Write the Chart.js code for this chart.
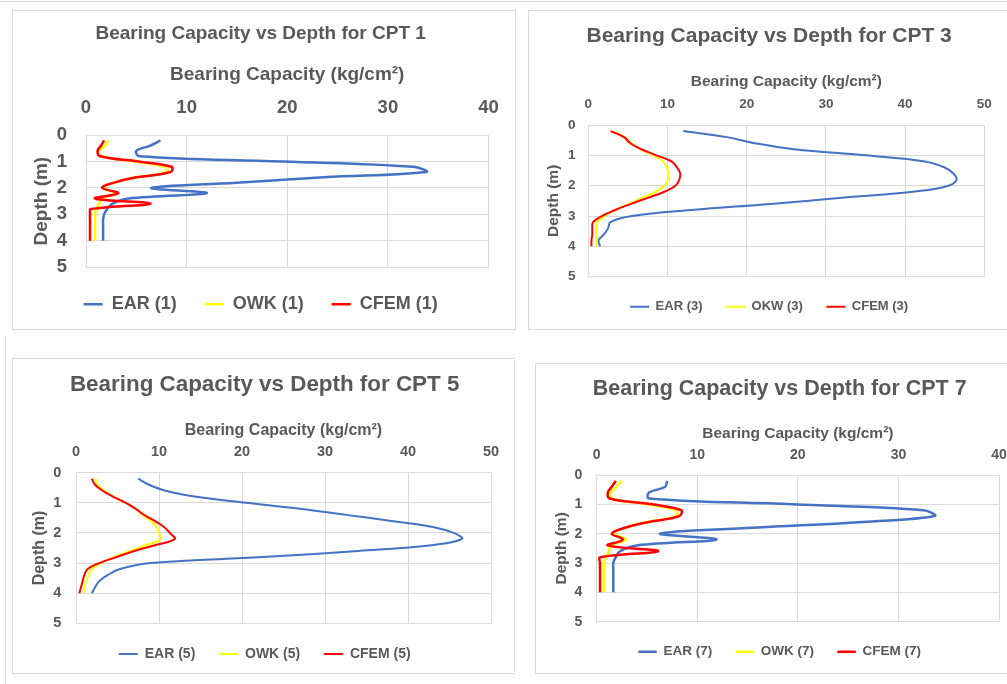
<!DOCTYPE html>
<html>
<head>
<meta charset="utf-8">
<script src="https://cdn.jsdelivr.net/npm/chart.js@4.4.1/dist/chart.umd.min.js"></script>
<style>
  body { margin: 0; background: #fff; width: 1007px; height: 684px; overflow: hidden; position: relative; }
  .panel { position: absolute; border: 1px solid #d9d9d9; background: #fff; }
  .panel canvas { display: block; }
  #p1 { left: 12px; top: 10px; width: 502px; height: 318px; }
  #p3 { left: 528px; top: 10px; width: 478px; height: 318px; }
  #p5 { left: 12px; top: 358px; width: 501px; height: 314px; }
  #p7 { left: 535px; top: 363px; width: 486px; height: 309px; }
  #frameTop { position: absolute; left: 0; top: 1px; width: 1007px; border-top: 1px solid #d9d9d9; }
  #frameLeft { position: absolute; left: 5px; top: 336px; height: 348px; border-left: 1px solid #d9d9d9; }
</style>
</head>
<body>
<div id="frameTop"></div>
<div id="frameLeft"></div>
<div class="panel" id="p1"><canvas id="c1" width="502" height="318"></canvas></div>
<div class="panel" id="p3"><canvas id="c3" width="478" height="318"></canvas></div>
<div class="panel" id="p5"><canvas id="c5" width="501" height="314"></canvas></div>
<div class="panel" id="p7"><canvas id="c7" width="486" height="309"></canvas></div>
<script>
// depth of each reading (m)
const depths = [0.2, 0.4, 0.6, 0.8, 1.0, 1.2, 1.4, 1.6, 1.8, 2.0, 2.2, 2.4, 2.6, 2.8, 3.0, 3.2, 3.4, 3.6, 3.8, 4.0];

// bearing capacity (kg/cm2)
const ear1  = [7.4, 6.4, 5.0, 5.3, 19.5, 32.5, 33.8, 23.6, 15.0, 6.5, 12.0, 4.2, 2.6, 2.1, 1.8, 1.7, 1.7, 1.7, 1.7, 1.7];
const owk1  = [2.2, 1.9, 1.3, 1.5, 4.8, 7.8, 8.0, 5.0, 2.8, 1.7, 3.0, 1.5, 1.3, 1.0, 0.9, 0.9, 0.9, 0.9, 0.9, 0.9];
const cfem1 = [1.8, 1.5, 1.15, 1.4, 5.2, 8.5, 8.4, 5.0, 2.8, 1.6, 3.2, 0.9, 6.4, 0.5, 0.4, 0.4, 0.4, 0.4, 0.4, 0.4];

const ear3  = [12.0, 17.5, 21.0, 26.0, 35.0, 42.5, 45.0, 46.1, 46.5, 45.5, 41.0, 32.0, 23.0, 13.0, 5.5, 2.8, 2.5, 2.0, 1.3, 1.5];
const okw3  = [3.0, 4.6, 5.4, 6.6, 8.2, 9.4, 9.9, 10.1, 10.1, 9.6, 8.5, 6.8, 5.1, 3.4, 2.1, 1.1, 1.0, 1.0, 1.0, 1.0];
const cfem3 = [2.8, 4.5, 5.3, 6.7, 8.6, 10.5, 11.2, 11.6, 11.5, 11.0, 9.6, 7.5, 5.4, 3.4, 1.7, 0.6, 0.5, 0.5, 0.4, 0.4];

const ear5  = [7.5, 8.8, 10.8, 14.5, 20.5, 27.0, 32.5, 38.0, 43.0, 45.5, 46.5, 43.1, 34.0, 22.5, 9.0, 5.3, 3.8, 2.8, 2.3, 1.9];
const owk5  = [2.3, 2.6, 3.4, 4.6, 6.0, 7.2, 8.0, 9.0, 9.7, 10.0, 10.2, 8.5, 6.5, 4.6, 3.0, 1.9, 1.5, 1.2, 1.0, 0.9];
const cfem5 = [1.9, 2.3, 3.2, 4.5, 6.0, 7.2, 8.2, 9.5, 10.6, 11.3, 11.9, 9.6, 7.0, 4.9, 2.8, 1.4, 1.0, 0.8, 0.6, 0.4];

const ear7  = [7.0, 6.8, 5.2, 5.2, 19.5, 32.5, 33.6, 26.5, 15.5, 6.3, 11.9, 4.0, 2.3, 1.9, 1.65, 1.65, 1.65, 1.65, 1.65, 1.65];
const owk7  = [2.5, 2.0, 1.4, 1.5, 5.0, 7.8, 7.9, 5.0, 2.8, 1.7, 2.9, 1.4, 1.2, 0.9, 0.7, 0.7, 0.7, 0.7, 0.7, 0.7];
const cfem7 = [1.9, 1.5, 1.1, 1.3, 5.5, 8.4, 8.2, 5.2, 2.8, 1.5, 2.6, 1.1, 6.1, 0.35, 0.33, 0.33, 0.33, 0.33, 0.33, 0.33];

const names1 = ['EAR (1)', 'OWK (1)', 'CFEM (1)'];
const names3 = ['EAR (3)', 'OKW (3)', 'CFEM (3)'];
const names5 = ['EAR (5)', 'OWK (5)', 'CFEM (5)'];
const names7 = ['EAR (7)', 'OWK (7)', 'CFEM (7)'];

const xMax = [40, 50, 50, 40];
const depthMax = 5;

const colors = ['#4472C4', '#FFFF00', '#FF0000'];
const textColor = '#595959';
const gridColor = '#d9d9d9';
const family = "'Liberation Sans', Arial, sans-serif";

function makeChart(id, title, names, series, maxX, lay) {
    const datasets = series.map(function(vals, i) {
        return {
            label: names[i],
            data: vals.map((v, k) => ({ x: v, y: depths[k] })),
            borderColor: colors[i],
            backgroundColor: colors[i],
            borderWidth: lay.line,
            showLine: true,
            pointRadius: 0,
            tension: 0.4,
            order: 2 - i // red drawn on top
        };
    });
    const font = size => ({ family: family, size: size, weight: 'bold' });

    const chart = new Chart(document.getElementById(id), {
        type: 'scatter',
        data: { datasets: datasets },
        options: {
            responsive: false,
            devicePixelRatio: 1,
            animation: false,
            events: [],
            layout: { padding: Object.assign({}, lay.pad) },
            plugins: {
                title: {
                    display: true,
                    text: title,
                    color: textColor,
                    font: font(lay.titleSize),
                    padding: { top: 0, bottom: lay.titlePad }
                },
                legend: {
                    position: 'bottom',
                    labels: {
                        usePointStyle: true,
                        pointStyle: 'line',
                        pointStyleWidth: lay.legendBox,
                        padding: lay.legendPad,
                        color: textColor,
                        font: font(lay.legendSize),
                        sort: (a, b) => a.datasetIndex - b.datasetIndex
                    }
                },
                tooltip: { enabled: false }
            },
            scales: {
                x: {
                    type: 'linear',
                    position: 'top',
                    min: 0,
                    max: maxX,
                    ticks: { stepSize: 10, padding: lay.xTickPad, color: textColor, font: font(lay.tickSize) },
                    grid: { color: gridColor, drawTicks: false },
                    border: { color: gridColor },
                    title: {
                        display: true,
                        text: 'Bearing Capacity (kg/cm²)',
                        color: textColor,
                        font: font(lay.axisSize),
                        padding: { top: 0, bottom: lay.xTitlePad }
                    }
                },
                y: {
                    type: 'linear',
                    reverse: true,
                    min: 0,
                    max: depthMax,
                    ticks: { stepSize: 1, padding: lay.yTickPad, color: textColor, font: font(lay.tickSize) },
                    grid: { color: gridColor, drawTicks: false },
                    border: { color: gridColor },
                    title: {
                        display: true,
                        text: 'Depth (m)',
                        color: textColor,
                        font: font(lay.axisSize),
                        padding: { top: lay.yTitleTop, bottom: lay.yTitlePad }
                    }
                }
            }
        }
    });

    // nudge the outer padding so the plot area lands where it is in the picture
    for (let k = 0; k < 3; k++) {
        const a = chart.chartArea;
        const p = Object.assign({}, chart.options.layout.padding);
        p.left += lay.area[0] - a.left;
        p.top += lay.area[1] - a.top;
        p.right += a.right - lay.area[2];
        p.bottom += a.bottom - lay.area[3];
        chart.options.layout.padding = p;
        chart.update();
    }
    return chart;
}

makeChart('c1', 'Bearing Capacity vs Depth for CPT 1', names1, [ear1, owk1, cfem1], xMax[0], {
    titleSize: 19, axisSize: 19, tickSize: 18.5, legendSize: 18, line: 2.5,
    titlePad: 17.9, xTitlePad: -5.4, xTickPad: 16.2, yTitleTop: 0, yTitlePad: -15.9, yTickPad: 19,
    legendPad: 28, legendBox: 19,
    area: [73, 124, 476, 256.3],
    pad: { left: 37, right: 26, top: 30, bottom: 6 }
});

makeChart('c3', 'Bearing Capacity vs Depth for CPT 3', names3, [ear3, okw3, cfem3], xMax[1], {
    titleSize: 21, axisSize: 15.5, tickSize: 13.5, legendSize: 13, line: 2,
    titlePad: 23.4, xTitlePad: -7.7, xTickPad: 12.6, yTitleTop: -10, yTitlePad: -7.4, yTickPad: 12.8,
    legendPad: 23.5, legendBox: 19,
    area: [59.3, 114, 455.3, 265.7],
    pad: { left: 38, right: 22.7, top: 26, bottom: 6 }
});

makeChart('c5', 'Bearing Capacity vs Depth for CPT 5', names5, [ear5, owk5, cfem5], xMax[2], {
    titleSize: 22.4, axisSize: 16, tickSize: 14.5, legendSize: 14, line: 2,
    titlePad: 22.9, xTitlePad: -8.4, xTickPad: 11.7, yTitleTop: -8, yTitlePad: -11, yTickPad: 14.7,
    legendPad: 23.7, legendBox: 19,
    area: [63, 113.7, 478, 264.3],
    pad: { left: 40, right: 23, top: 25, bottom: 2 }
});

makeChart('c7', 'Bearing Capacity vs Depth for CPT 7', names7, [ear7, owk7, cfem7], xMax[3], {
    titleSize: 21.5, axisSize: 15.5, tickSize: 14, legendSize: 13.5, line: 2.5,
    titlePad: 22.3, xTitlePad: -8.6, xTickPad: 11.9, yTitleTop: -8, yTitlePad: -11.1, yTickPad: 14.5,
    legendPad: 23.25, legendBox: 18.5,
    area: [60.7, 111, 463, 257.7],
    pad: { left: 39, right: 23, top: 25, bottom: 4.5 }
});
</script>
</body>
</html>
